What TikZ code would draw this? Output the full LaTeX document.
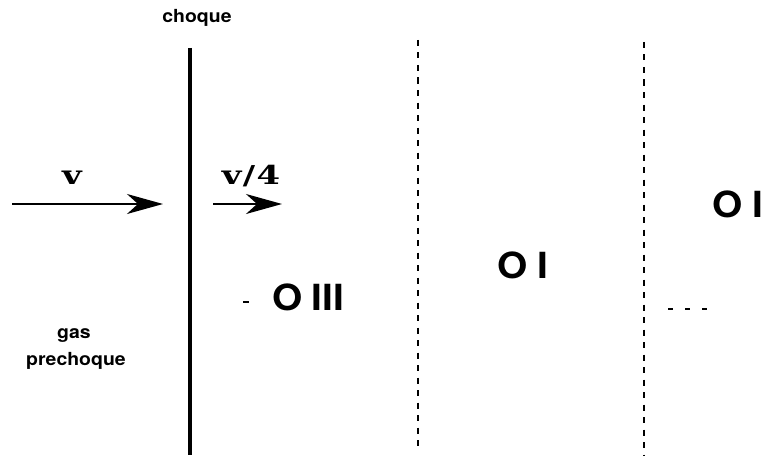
\documentclass[tikz,border=0pt]{standalone}
\usepackage{fontspec}
\setsansfont{TeX Gyre Heros}[FakeStretch=1.08]
\newfontfamily\velfont{DejaVu Serif}[FakeStretch=1.3]
\usetikzlibrary{arrows.meta}
\begin{document}
\begin{tikzpicture}[x=1pt,y=-1pt,
  lbl/.style={font=\sffamily\bfseries\fontsize{18}{20}\selectfont, inner sep=0pt, anchor=base},
  big/.style={font=\sffamily\bfseries\fontsize{36}{38}\selectfont, inner sep=0pt, anchor=base},
  vel/.style={font=\velfont\bfseries\fontsize{26}{28}\selectfont, inner sep=0pt, anchor=base},
  flow/.style={line width=1.8pt, -{Stealth[length=36pt,width=20pt,inset=11pt]}},
  dline/.style={line width=1.8pt, dash pattern=on 6pt off 6.5pt}]
\useasboundingbox (0,0) rectangle (763,460);
% shock
\coordinate (s1) at (190,48);
\coordinate (s2) at (190,455);
\draw[line width=4pt] (s1) -- (s2);
% dashed fronts
\coordinate (d1a) at (418,40);
\coordinate (d1b) at (418,448);
\draw[dline] (d1a) -- (d1b);
\coordinate (d2a) at (644,42);
\coordinate (d2b) at (644,455);
\draw[dline] (d2a) -- (d2b);
% labels
\node[lbl] (choque) at (197,23) {choque};
\node[vel] (v) at (72,184) {v};
\node[vel] (v4) at (251,184) {v\kern1.5pt/\kern1.5pt4};
\coordinate (a1s) at (12,204);
\coordinate (a1e) at (163,204);
\draw[flow] (a1s) -- (a1e);
\coordinate (a2s) at (213,204);
\coordinate (a2e) at (282,204);
\draw[flow] (a2s) -- (a2e);
\node[big] (oiii) at (308,310) {O\hspace{9pt}III};
\node[big] (oi1) at (523,278) {O\hspace{9pt}I};
\node[big] (oi2) at (738,217) {O\hspace{9pt}I};
\coordinate (m1) at (243,302);
\coordinate (m2) at (249,302);
\draw[line width=1.4pt] (m1) -- (m2);
\coordinate (e1) at (668,309);
\coordinate (e2) at (708,309);
\draw[line width=1.5pt, dash pattern=on 5pt off 12pt] (e1) -- (e2);
\node[lbl] (gas) at (74,338) {gas};
\node[lbl] (pre) at (76,365) {prechoque};
\end{tikzpicture}
\end{document}
